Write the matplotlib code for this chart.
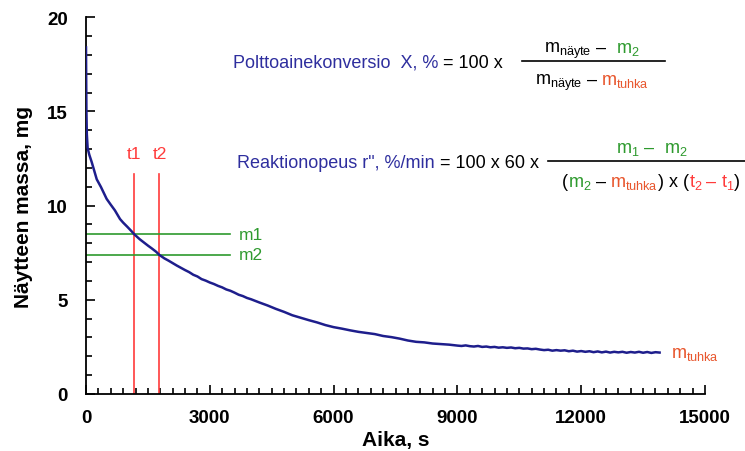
import matplotlib
matplotlib.use('Agg')
import matplotlib.pyplot as plt
from matplotlib.ticker import MultipleLocator

plt.rcParams['font.family'] = ['Liberation Sans', 'DejaVu Sans']
plt.rcParams['mathtext.fontset'] = 'custom'
plt.rcParams['mathtext.rm'] = 'Liberation Sans'
plt.rcParams['mathtext.it'] = 'Liberation Sans'

BLUE = '#1E1E8C'; TXTBLUE = '#2E2E9E'; RED = '#FF3B3B'; GREEN = '#2E9A2E'; ORANGE = '#E8552C'

# mass curve (s, mg)
time_s = [0, 5, 10, 20, 40, 80, 140, 200, 260, 360, 500, 600, 700, 824, 900, 1000,
          1100, 1170, 1300, 1400, 1500, 1600, 1700, 1780, 1900, 2000, 2100, 2200, 2300,
          2400, 2500, 2600, 2700, 2800, 2900, 3000, 3100, 3200, 3300, 3400, 3500, 3600,
          3700, 3800, 3900, 4000, 4200, 4400, 4600, 4800, 5000, 5200, 5400, 5600, 5800,
          6000, 6200, 6400, 6600, 6800, 7000, 7200, 7400, 7600, 7800, 8000, 8200, 8400,
          8600, 8800, 9000, 9100, 9200, 9300, 9400, 9500, 9600, 9700, 9800, 9900, 10000,
          10100, 10200, 10300, 10400, 10500, 10600, 10700, 10800, 10900, 11000, 11100,
          11200, 11300, 11400, 11500, 11600, 11700, 11800, 11900, 12000, 12100, 12200,
          12300, 12400, 12500, 12600, 12700, 12800, 12900, 13000, 13100, 13200, 13300,
          13400, 13500, 13600, 13700, 13800, 13900]
mass_mg = [18.4, 16.6, 15.0, 13.8, 13.05, 12.7, 12.3, 11.85, 11.4, 11.0, 10.36, 10.05,
           9.75, 9.29, 9.1, 8.88, 8.65, 8.48, 8.22, 8.05, 7.88, 7.72, 7.55, 7.38, 7.2,
           7.08, 6.95, 6.82, 6.7, 6.58, 6.47, 6.33, 6.24, 6.1, 6.02, 5.92, 5.84, 5.74,
           5.66, 5.55, 5.48, 5.38, 5.27, 5.2, 5.1, 5.03, 4.86, 4.7, 4.52, 4.36, 4.18,
           4.05, 3.92, 3.8, 3.66, 3.55, 3.47, 3.38, 3.3, 3.24, 3.18, 3.08, 3.02, 2.94,
           2.84, 2.77, 2.74, 2.68, 2.65, 2.62, 2.57, 2.55, 2.58, 2.54, 2.52, 2.55, 2.5,
           2.52, 2.48, 2.5, 2.46,
           2.48, 2.45, 2.47, 2.43, 2.45, 2.41, 2.42, 2.38, 2.4,
           2.36, 2.33, 2.35, 2.3, 2.33, 2.3, 2.32, 2.27, 2.3, 2.25, 2.28, 2.24, 2.27,
           2.22, 2.26, 2.21, 2.25, 2.2, 2.24, 2.21, 2.24, 2.19, 2.23, 2.2, 2.24, 2.19,
           2.23, 2.18, 2.22, 2.2]

t_marks = [1170, 1780]
t_labels = ['t1', 't2']
m_marks = [8.48, 7.38]
m_labels = ['m1', 'm2']

W, H = 745, 452
fig = plt.figure(figsize=(W/100, H/100), dpi=100)
ax = fig.add_axes([86/W, 1-395/H, (705-86)/W, (395-18.3)/H])

ax.plot(time_s, mass_mg, color=BLUE, lw=1.8, zorder=3)
for t, lab in zip(t_marks, t_labels):
    ax.plot([t, t], [0, 11.7], color=RED, lw=1.2, zorder=2)
    ax.text(t, 12.75, lab, color=RED, fontsize=12.5, ha='center', va='center')
for m, lab in zip(m_marks, m_labels):
    ax.plot([0, 3500], [m, m], color=GREEN, lw=1.2, zorder=2)
    ax.text(3700, m, lab, color=GREEN, fontsize=12.5, ha='left', va='center')
ax.text(14180, 2.15, r'$\mathregular{m_{tuhka}}$', color=ORANGE, fontsize=13, ha='left', va='center')

ax.set_xlim(0, 15000); ax.set_ylim(0, 20)
ax.xaxis.set_major_locator(MultipleLocator(3000)); ax.xaxis.set_minor_locator(MultipleLocator(300))
ax.yaxis.set_major_locator(MultipleLocator(5)); ax.yaxis.set_minor_locator(MultipleLocator(1))
ax.tick_params(which='both', direction='in', width=1.2, labelsize=13.5)
ax.tick_params(axis='y', which='both', pad=13)
ax.tick_params(axis='x', which='both', pad=11)
ax.tick_params(which='major', length=6.5)
ax.tick_params(which='minor', length=4)
for lb in ax.get_xticklabels() + ax.get_yticklabels():
    lb.set_fontweight('bold')
for s in ['top', 'right']:
    ax.spines[s].set_visible(False)
for s in ['left', 'bottom']:
    ax.spines[s].set_linewidth(1.3)
ax.set_xlabel('Aika, s', fontsize=15, fontweight='bold', labelpad=3)
ax.set_ylabel('Näytteen massa, mg', fontsize=15, fontweight='bold', labelpad=10)

# ---- formulas, drawn piece by piece in image pixel coords ----
renderer = fig.canvas.get_renderer()

def seq(x, y, parts, fs, center=False):
    # parts: (text, color, gap_after_px)
    objs, gaps = [], []
    for s, c, g in parts:
        objs.append(fig.text(0, 1-y/H, s, color=c, fontsize=fs, va='baseline'))
        gaps.append(g)
    widths = [o.get_window_extent(renderer).width for o in objs]
    total = sum(widths) + sum(gaps)
    cx = x - total/2 if center else x
    for o, w, g in zip(objs, widths, gaps):
        o.set_x(cx/W); cx += w + g

FS = 13
# formula 1
seq(233, 68, [('Polttoainekonversio  X, %', TXTBLUE, 5), ('= 100 x', 'black', 0)], FS)
fig.add_artist(plt.Line2D([522/W, 665/W], [1-62/H, 1-62/H], color='black', lw=1.2))
seq(592, 53, [(r'$\mathregular{m_{näyte}}$', 'black', 4), ('–', 'black', 10),
              (r'$\mathregular{m_2}$', GREEN, 0)], FS, center=True)
seq(592, 85, [(r'$\mathregular{m_{näyte}}$', 'black', 4), ('–', 'black', 4),
              (r'$\mathregular{m_{tuhka}}$', ORANGE, 0)], FS, center=True)

# formula 2
seq(237, 168, [('Reaktionopeus r", %/min', TXTBLUE, 5), ('= 100 x 60 x', 'black', 0)], FS)
fig.add_artist(plt.Line2D([548/W, 745/W], [1-162/H, 1-162/H], color='black', lw=1.2))
seq(652, 153, [(r'$\mathregular{m_1}$', GREEN, 4), ('–', GREEN, 10),
               (r'$\mathregular{m_2}$', GREEN, 0)], FS, center=True)
seq(651, 187, [('(', 'black', 0), (r'$\mathregular{m_2}$', GREEN, 4), ('–', 'black', 4),
               (r'$\mathregular{m_{tuhka}}$', ORANGE, 0), (') x (', 'black', 0),
               (r'$\mathregular{t_2}$', RED, 4), ('–', RED, 4),
               (r'$\mathregular{t_1}$', RED, 0), (')', 'black', 0)], FS, center=True)

fig.savefig('out.png', dpi=100, facecolor='white')
